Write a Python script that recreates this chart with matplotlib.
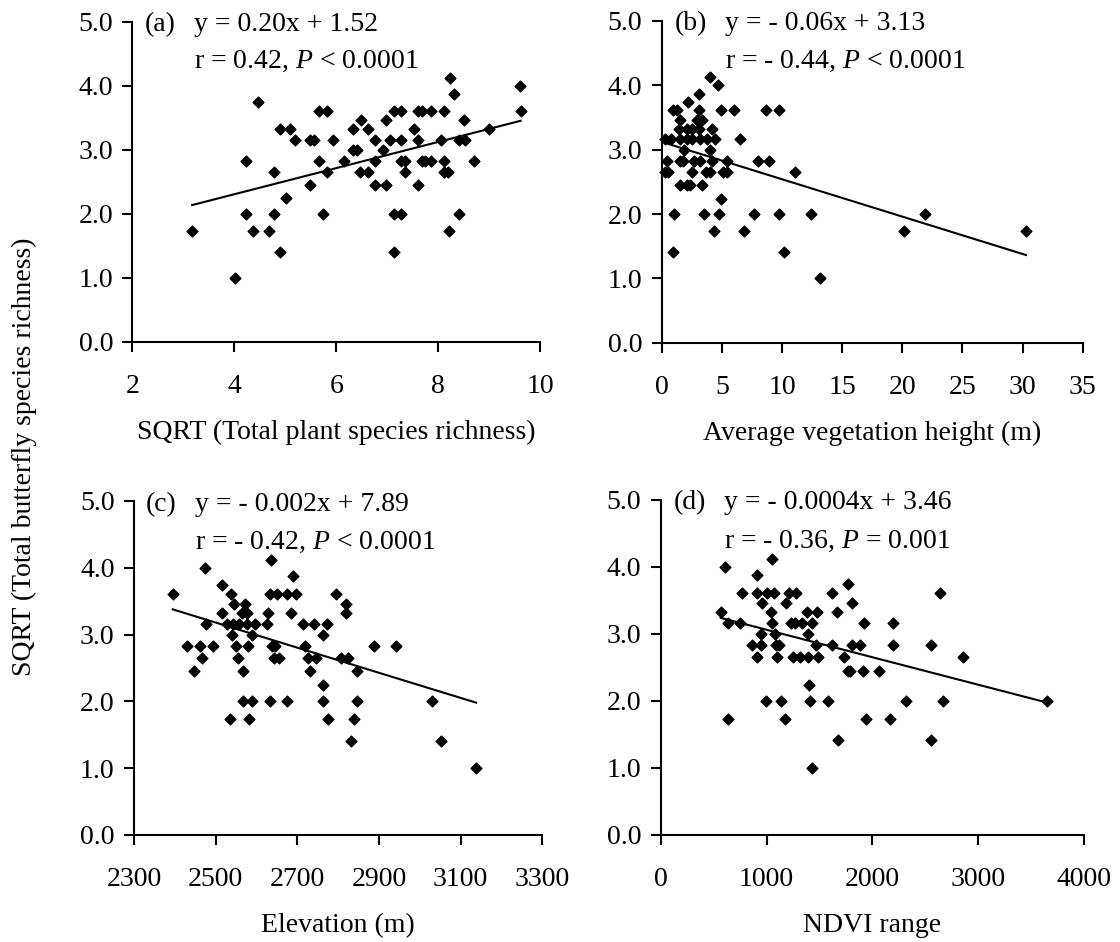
import matplotlib
matplotlib.use('Agg')
import matplotlib.pyplot as plt
import numpy as np

plt.rcParams['font.family'] = ['Liberation Serif', 'DejaVu Serif']
plt.rcParams['mathtext.fontset'] = 'custom'
plt.rcParams['mathtext.it'] = 'Liberation Serif:italic'
plt.rcParams['mathtext.rm'] = 'Liberation Serif'

# (a) SQRT plant richness
xa = [3.17, 4.01, 4.23, 4.23, 4.36, 4.47, 4.68, 4.78, 4.78, 4.90,
      4.90, 5.01, 5.09, 5.20, 5.48, 5.56, 5.48, 5.67, 5.82, 5.67,
      5.82, 5.74, 5.93, 6.15, 6.33, 6.33, 6.41, 6.48, 6.46, 6.62,
      6.62, 6.76, 6.77, 6.76, 6.92, 6.98, 6.98, 7.06, 7.13, 7.13,
      7.13, 7.28, 7.28, 7.28, 7.35, 7.35, 7.28, 7.53, 7.61, 7.61,
      7.68, 7.61, 7.68, 7.74, 7.86, 7.86, 8.05, 8.11, 8.11, 8.11,
      8.20, 8.23, 8.31, 8.22, 8.41, 8.41, 8.53, 8.50, 8.70, 9.00,
      9.60, 9.62]
ya = [1.73, 1.00, 2.83, 2.00, 1.73, 3.74, 1.73, 2.65, 2.00, 3.32,
      1.41, 2.24, 3.32, 3.16, 3.16, 3.16, 2.45, 3.61, 3.61, 2.83,
      2.65, 2.00, 3.16, 2.83, 3.32, 3.00, 3.00, 3.46, 2.65, 2.65,
      3.32, 3.16, 2.83, 2.45, 3.00, 3.46, 2.45, 3.16, 3.61, 2.00,
      1.41, 3.61, 3.16, 2.83, 2.83, 2.65, 2.00, 3.32, 3.16, 3.61,
      3.61, 2.45, 2.83, 2.83, 3.61, 2.83, 3.16, 3.61, 2.83, 2.65,
      2.65, 4.12, 3.87, 1.73, 2.00, 3.16, 3.16, 3.46, 2.83, 3.32,
      4.00, 3.61]

# (b) vegetation height
xb = [0.28, 0.75, 0.42, 0.28, 0.55, 0.91, 1.25, 1.05, 0.91, 1.52,
      1.47, 1.52, 1.88, 1.52, 1.80, 1.52, 2.16, 2.08, 2.13, 2.49,
      2.49, 2.36, 2.13, 2.49, 2.72, 3.10, 3.10, 2.91, 3.33, 3.10,
      3.19, 3.19, 3.38, 3.52, 3.69, 4.02, 4.19, 3.80, 4.43, 4.02,
      4.19, 4.02, 4.38, 4.71, 4.93, 5.40, 5.07, 5.40, 4.93, 4.79,
      6.04, 6.51, 6.85, 7.70, 7.98, 8.68, 8.95, 9.73, 9.73, 10.20,
      11.11, 12.39, 13.17, 20.18, 21.90, 30.29]
yb = [3.16, 3.16, 2.83, 2.65, 2.65, 3.61, 3.61, 2.00, 1.41, 3.46,
      3.32, 3.16, 3.00, 2.83, 2.83, 2.45, 3.74, 3.32, 3.16, 3.32,
      3.16, 2.45, 2.45, 2.65, 2.83, 3.87, 3.61, 3.46, 3.46, 3.32,
      3.16, 2.83, 2.45, 2.00, 2.65, 4.12, 3.32, 3.16, 3.16, 3.00,
      2.83, 2.65, 1.73, 4.00, 3.61, 2.83, 2.65, 2.65, 2.24, 2.00,
      3.61, 3.16, 1.73, 2.00, 2.83, 3.61, 2.83, 3.61, 2.00, 1.41,
      2.65, 2.00, 1.00, 1.73, 2.00, 1.73]

# (c) elevation
xc = [2395, 2431, 2448, 2462, 2467, 2474, 2476, 2493, 2515, 2515,
      2527, 2534, 2538, 2539, 2546, 2543, 2551, 2556, 2557, 2564,
      2568, 2568, 2572, 2576, 2578, 2580, 2582, 2588, 2590, 2596,
      2625, 2629, 2633, 2636, 2633, 2637, 2645, 2644, 2654, 2651,
      2674, 2676, 2690, 2696, 2685, 2715, 2719, 2727, 2731, 2741,
      2746, 2762, 2764, 2764, 2772, 2776, 2795, 2806, 2819, 2819,
      2825, 2831, 2839, 2847, 2847, 2888, 2942, 3031, 3052, 3138]
yc = [3.61, 2.83, 2.45, 2.83, 2.65, 4.00, 3.16, 2.83, 3.74, 3.32,
      3.16, 1.73, 3.61, 3.00, 3.46, 3.16, 2.83, 2.65, 3.16, 3.32,
      2.45, 2.00, 3.46, 3.32, 3.16, 2.83, 1.73, 3.00, 2.00, 3.16,
      3.16, 3.32, 2.00, 4.12, 3.61, 2.83, 2.83, 2.65, 2.65, 3.61,
      2.00, 3.61, 3.87, 3.61, 3.32, 3.16, 2.83, 2.65, 2.45, 3.16,
      2.65, 2.24, 3.00, 2.00, 3.16, 1.73, 3.61, 2.65, 3.46, 3.32,
      2.65, 1.41, 1.73, 2.45, 2.00, 2.83, 2.83, 2.00, 1.41, 1.00]

# (d) NDVI range
xd = [567, 607, 639, 639, 749, 765, 859, 906, 906, 906,
      947, 947, 960, 994, 1001, 1039, 1048, 1070, 1048, 1079,
      1089, 1120, 1095, 1133, 1174, 1183, 1215, 1278, 1228, 1269,
      1246, 1316, 1337, 1379, 1388, 1394, 1426, 1403, 1410, 1432,
      1464, 1479, 1488, 1577, 1615, 1615, 1662, 1677, 1731, 1766,
      1772, 1787, 1810, 1810, 1882, 1920, 1913, 1936, 2065, 2165,
      2191, 2191, 2313, 2550, 2550, 2637, 2669, 2858, 3645]
yd = [3.32, 4.00, 3.16, 1.73, 3.16, 3.61, 2.83, 3.87, 3.61, 2.65,
      3.00, 2.83, 3.46, 2.00, 3.61, 3.32, 4.12, 3.61, 3.16, 3.00,
      2.83, 2.83, 2.65, 2.00, 1.73, 3.46, 3.61, 3.61, 3.16, 3.16,
      2.65, 2.65, 3.16, 3.32, 2.65, 3.00, 3.16, 2.24, 2.00, 1.00,
      2.83, 3.32, 2.65, 2.00, 3.61, 2.83, 3.32, 1.41, 2.65, 3.74,
      2.45, 2.45, 3.46, 2.83, 2.83, 3.16, 2.45, 1.73, 2.45, 1.73,
      3.16, 2.83, 2.00, 2.83, 1.41, 3.61, 2.00, 2.65, 2.00]

# fitted lines as drawn (slope, intercept)
slopes = [0.204, -0.058, -0.00188, -0.00041]
intercepts = [1.49, 3.12, 7.88, 3.47]

labels = ['(a)', '(b)', '(c)', '(d)']
eqs = ['y = 0.20x + 1.52', 'y = - 0.06x + 3.13',
       'y = - 0.002x + 7.89', 'y = - 0.0004x + 3.46']
stats = [r'r = 0.42, $P$ < 0.0001', r'r = - 0.44, $P$ < 0.0001',
         r'r = - 0.42, $P$ < 0.0001', r'r = - 0.36, $P$ = 0.001']
xlabels = ['SQRT (Total plant species richness)', 'Average vegetation height (m)',
           'Elevation (m)', 'NDVI range']
xticks = [np.arange(2, 11, 2), np.arange(0, 36, 5),
          np.arange(2300, 3301, 200), np.arange(0, 4001, 1000)]

fig = plt.figure(figsize=(11.2, 9.42), dpi=100)
rects = [[0.1183, 0.6370, 0.3638, 0.3400],
         [0.5908, 0.6360, 0.3759, 0.3420],
         [0.1196, 0.1136, 0.3646, 0.3546],
         [0.5899, 0.1136, 0.3782, 0.3560]]
xs = [xa, xb, xc, xd]
ys = [ya, yb, yc, yd]

fs = 20
for i in range(4):
    ax = fig.add_axes(rects[i])
    ax.scatter(xs[i], ys[i], marker='D', s=30, color='black', zorder=3, clip_on=False)
    lx = np.array([min(xs[i]), max(xs[i])])
    ax.plot(lx, slopes[i] * lx + intercepts[i], color='black', lw=1.5)

    ax.set_xlim(xticks[i][0], xticks[i][-1])
    ax.set_ylim(0, 5)
    ax.set_xticks(xticks[i])
    ax.set_yticks(np.arange(0, 5.1, 1))
    ax.set_yticklabels(['%.1f' % v for v in np.arange(0, 5.1, 1)])
    ax.spines['top'].set_visible(False)
    ax.spines['right'].set_visible(False)
    for s in ['left', 'bottom']:
        ax.spines[s].set_linewidth(1.5)
    ax.tick_params(axis='both', direction='out', length=7, width=1.5, labelsize=fs)
    ax.tick_params(axis='x', pad=16)
    ax.tick_params(axis='y', pad=7)
    ax.set_xlabel(xlabels[i], fontsize=fs, labelpad=15)

    # panel letter and regression text
    ax.text(0.03, 0.99, labels[i], transform=ax.transAxes, fontsize=fs, va='center')
    ax.text(0.15, 0.99, eqs[i], transform=ax.transAxes, fontsize=fs, va='center')
    ax.text(0.15, 0.875, stats[i], transform=ax.transAxes, fontsize=fs, va='center')

fig.text(0.022, 0.515, 'SQRT (Total butterfly species richness)', rotation=90,
         fontsize=fs, va='center', ha='center')

fig.savefig('out.png', dpi=100, facecolor='white')
